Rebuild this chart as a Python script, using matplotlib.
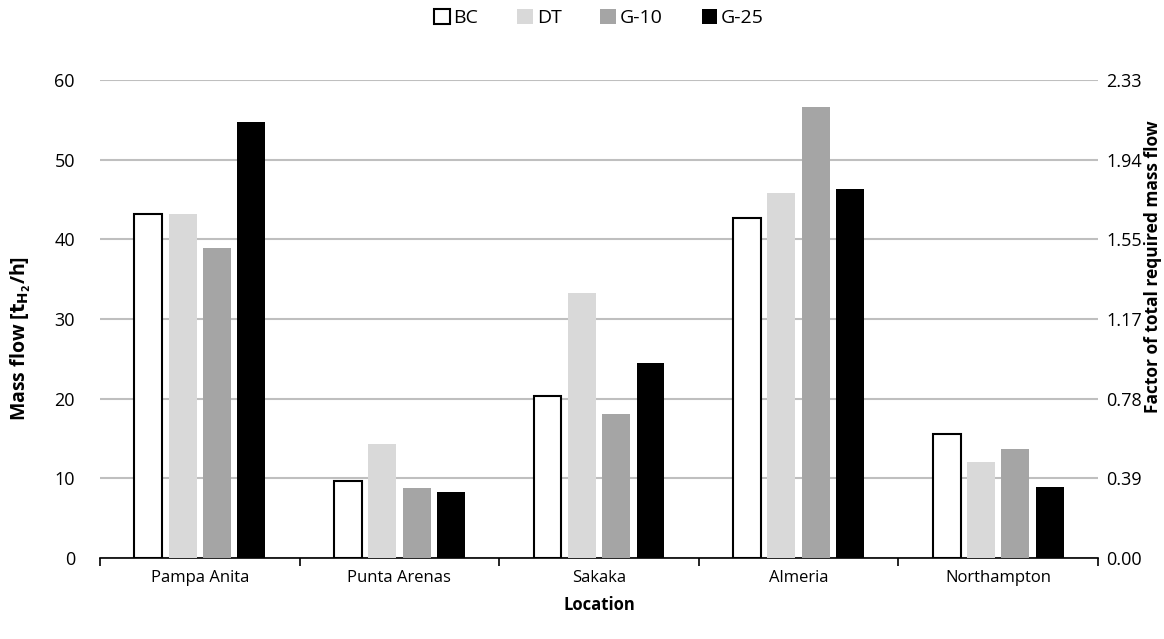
import matplotlib
matplotlib.use("Agg")
import matplotlib.pyplot as plt
import numpy as np

plt.rcParams["font.family"] = ["Open Sans", "DejaVu Sans"]

locations = ["Pampa Anita", "Punta Arenas", "Sakaka", "Almeria", "Northampton"]
series = ["BC", "DT", "G-10", "G-25"]
bc = [43.2, 9.7, 20.3, 42.7, 15.6]
dt = [43.2, 14.3, 33.3, 45.8, 12.0]
g10 = [38.9, 8.8, 18.1, 56.6, 13.7]
g25 = [54.7, 8.3, 24.5, 46.3, 8.9]
right_ticks = ["0.00", "0.39", "0.78", "1.17", "1.55", "1.94", "2.33"]

fig = plt.figure(figsize=(11.64, 6.39), dpi=100)
ax = fig.add_axes([0.0859, 0.1268, 0.8574, 0.748])

x = np.arange(len(locations))
w = 0.14
step = 0.172
styles = [
    dict(color="white", edgecolor="black", linewidth=1.5),
    dict(color="#d9d9d9", edgecolor="none"),
    dict(color="#a5a5a5", edgecolor="none"),
    dict(color="black", edgecolor="none"),
]
for i, (name, vals, st) in enumerate(zip(series, [bc, dt, g10, g25], styles)):
    ax.bar(x + (i - 1.5) * step, vals, width=w, label=name, zorder=3, **st)

ax.set_xlim(-0.5, len(locations) - 0.5)
ax.set_ylim(0, 60)
ax.set_yticks(range(0, 61, 10))
ax.grid(axis="y", color="#bfbfbf", linewidth=1.5, zorder=0)
ax.set_xticks(x)
ax.set_xticklabels(locations, fontsize=12)
ax.set_xticks(np.arange(-0.5, len(locations), 1), minor=True)
ax.tick_params(axis="x", which="major", length=0, pad=9)
ax.tick_params(axis="x", which="minor", length=6, width=1.2, color="black")
ax.tick_params(axis="y", length=0, labelsize=13, pad=18)
for s in ["top", "right", "left"]:
    ax.spines[s].set_visible(False)
ax.spines["bottom"].set_linewidth(1.2)

ax.set_xlabel("Location", fontsize=12, fontweight="bold", labelpad=7)
fig.text(0.018, 1 - 338 / 639, r"Mass flow [$\mathbf{t_{H_2}}$/h]", fontsize=14,
         fontweight="bold", rotation=90, ha="center", va="center")

ax2 = ax.twinx()
ax2.set_ylim(0, 60)
ax2.set_yticks(range(0, 61, 10))
ax2.set_yticklabels(right_ticks)
ax2.tick_params(axis="y", length=0, labelsize=13, pad=6)
for s in ["top", "right", "left", "bottom"]:
    ax2.spines[s].set_visible(False)
fig.text(1153 / 1164, 1 - 267 / 639, "Factor of total required mass flow", fontsize=12.5,
         fontweight="bold", rotation=90, ha="center", va="center")

ax.legend(loc="upper center", bbox_to_anchor=(0.5, 1.185), ncol=4, frameon=False,
          fontsize=14, handlelength=0.8, handleheight=0.8, handletextpad=0.2, columnspacing=2.0)

fig.savefig("out.png", dpi=100)
